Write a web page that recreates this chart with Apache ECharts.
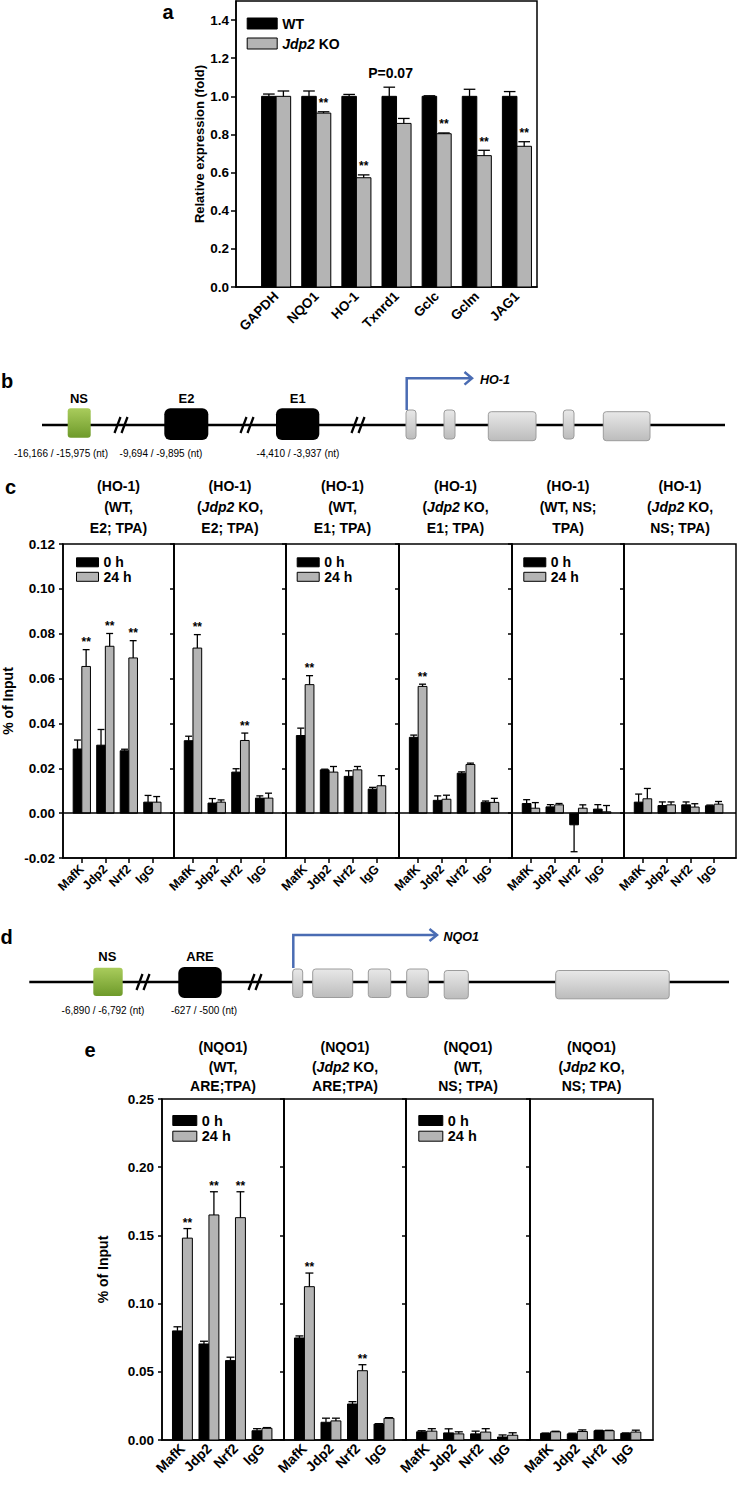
<!DOCTYPE html>
<html><head><meta charset="utf-8">
<script src="https://cdn.jsdelivr.net/npm/echarts@6/dist/echarts.min.js"></script>
<style>html,body{margin:0;padding:0;background:#fff;}#c{width:740px;height:1485px;}</style>
</head><body><div id="c"></div>
<script>
// ================= DATA =================
// Panel a
const genesA = ['GAPDH','NQO1','HO-1','Txnrd1','Gclc','Gclm','JAG1'];
const wtA    = [1.00, 1.00, 1.00, 1.00, 1.00, 1.00, 1.00];
const wtErrA = [0.012,0.028,0.010,0.048,0.003,0.037,0.025];
const koA    = [1.00, 0.912,0.573,0.858,0.804,0.689,0.738];
const koErrA = [0.028,0.007,0.015,0.026,0.004,0.028,0.024];
const sigA   = ['','**','**','','**','**','**'];
const noteA  = ['','','','P=0.07','','',''];
const ticksA = [0,0.2,0.4,0.6,0.8,1.0,1.2,1.4];

// Panel c (HO-1 ChIP)
const chipTargets = ['MafK','Jdp2','Nrf2','IgG'];
const hoHead = [
  ['(HO-1)','(WT,','E2; TPA)'],
  ['(HO-1)','({i|Jdp2} KO,','E2; TPA)'],
  ['(HO-1)','(WT,','E1; TPA)'],
  ['(HO-1)','({i|Jdp2} KO,','E1; TPA)'],
  ['(HO-1)','(WT, NS;','TPA)'],
  ['(HO-1)','({i|Jdp2} KO,','NS; TPA)']
];
const ho0h = [
  [0.0286,0.0303,0.0278,0.0049],
  [0.0323,0.0045,0.0183,0.0067],
  [0.0346,0.0193,0.0164,0.0107],
  [0.0338,0.0057,0.0178,0.0048],
  [0.0043,0.0028,-0.0052,0.0018],
  [0.0049,0.0034,0.0037,0.0033]
];
const ho0hErr = [
  [0.0040,0.0070,0.0007,0.0030],
  [0.0020,0.0020,0.0015,0.0010],
  [0.0033,0.0003,0.0025,0.0008],
  [0.0010,0.0020,0.0006,0.0006],
  [0.0017,0.0010,0.0120,0.0020],
  [0.0036,0.0016,0.0013,0.0003]
];
const ho24h = [
  [0.0654,0.0744,0.0692,0.0049],
  [0.0736,0.0049,0.0324,0.0067],
  [0.0573,0.0183,0.0193,0.0122],
  [0.0565,0.0062,0.0217,0.0048],
  [0.0022,0.0037,0.0022,0.0006],
  [0.0064,0.0037,0.0027,0.0040]
];
const ho24hErr = [
  [0.0075,0.0057,0.0077,0.0025],
  [0.0060,0.0010,0.0033,0.0022],
  [0.0040,0.0025,0.0015,0.0045],
  [0.0010,0.0018,0.0006,0.0018],
  [0.0025,0.0006,0.0015,0.0028],
  [0.0046,0.0013,0.0015,0.0012]
];
const hoSig = [
  ['**','**','**',''],
  ['**','','**',''],
  ['**','','',''],
  ['**','','',''],
  ['','','',''],
  ['','','','']
];

// Panel e (NQO1 ChIP)
const nqHead = [
  ['(NQO1)','(WT,','ARE;TPA)'],
  ['(NQO1)','({i|Jdp2} KO,','ARE;TPA)'],
  ['(NQO1)','(WT,','NS; TPA)'],
  ['(NQO1)','({i|Jdp2} KO,','NS; TPA)']
];
const nq0h = [
  [0.0800,0.0704,0.0582,0.0068],
  [0.0748,0.0130,0.0264,0.0117],
  [0.0060,0.0052,0.0045,0.0022],
  [0.0048,0.0045,0.0068,0.0048]
];
const nq0hErr = [
  [0.0030,0.0020,0.0025,0.0015],
  [0.0015,0.0030,0.0017,0.0003],
  [0.0008,0.0030,0.0020,0.0015],
  [0.0003,0.0005,0.0003,0.0004]
];
const nq24h = [
  [0.1480,0.1650,0.1630,0.0086],
  [0.1124,0.0140,0.0508,0.0159],
  [0.0065,0.0045,0.0058,0.0035],
  [0.0060,0.0062,0.0068,0.0058]
];
const nq24hErr = [
  [0.0070,0.0170,0.0190,0.0005],
  [0.0100,0.0020,0.0044,0.0005],
  [0.0018,0.0015,0.0025,0.0018],
  [0.0004,0.0012,0.0003,0.0014]
];
const nqSig = [
  ['**','**','**',''],
  ['**','','**',''],
  ['','','',''],
  ['','','','']
];

// ================= RENDER =================
const FONT = "'Liberation Sans', Arial, Helvetica, sans-serif";
const GRAY = '#b4b4b4';
const BLUE = '#4a6cb3';
const chart = echarts.init(document.getElementById('c'), null, {renderer:'svg', width:740, height:1485});

const grids = [], xAxis = [], yAxis = [], series = [], legend = [], elements = [];
const AX = {color:'#000', width:1.5};
const LF = {fontFamily:FONT, fontWeight:'bold', color:'#000'};

function makeBars(name, gi, vals, errs, sigs, side, color, bw, sigSize, sigGap, extra) {
  return {
    type:'custom', name:name, xAxisIndex:gi, yAxisIndex:gi,
    itemStyle:{color:color},
    data: vals.map((v,i)=>[i, v, errs[i]]),
    renderItem: function(params, api) {
      const i = api.value(0), v = api.value(1), e = api.value(2);
      const unit = api.size([1,0])[0];
      const w = unit*bw;
      const p0 = api.coord([i,0]);
      const p1 = api.coord([i,v]);
      const dir = v < 0 ? -1 : 1;
      const p2 = api.coord([i, v + dir*e]);
      const x0 = side < 0 ? p0[0]-w : p0[0];
      const cx = x0 + w/2;
      const capW = w*0.8;
      const ch = [
        {type:'rect', shape:{x:x0, y:Math.min(p0[1],p1[1]), width:w, height:Math.abs(p0[1]-p1[1])},
         style:{fill:color, stroke:'#000', lineWidth:1}},
        {type:'line', shape:{x1:cx, y1:p1[1], x2:cx, y2:p2[1]}, style:{stroke:'#000', lineWidth:1.3}},
        {type:'line', shape:{x1:cx-capW/2, y1:p2[1], x2:cx+capW/2, y2:p2[1]}, style:{stroke:'#000', lineWidth:1.3}}
      ];
      const s = sigs && sigs[params.dataIndex];
      if (s) ch.push({type:'text', x:cx, y:p2[1]-sigGap,
        style:{text:s, align:'center', verticalAlign:'middle', fontSize:sigSize, fontWeight:'bold', fontFamily:FONT, fill:'#000'}});
      if (extra) {
        const n = extra.notes[params.dataIndex];
        if (n) {
          const pn = api.coord([i, extra.base[params.dataIndex]]);
          ch.push({type:'text', x:p0[0]-6, y:pn[1]-14.5,
            style:{text:n, align:'center', verticalAlign:'middle', fontSize:14, fontWeight:'bold', fontFamily:FONT, fill:'#000'}});
        }
      }
      return {type:'group', children:ch};
    }
  };
}

function legendFor(left, top, names, iw, ih, gap, fs) {
  return {
    left:left, top:top, orient:'vertical', padding:0, itemGap:gap, itemWidth:iw, itemHeight:ih,
    icon:'rect', selectedMode:false,
    data:[{name:names[0], itemStyle:{color:'#000', borderColor:'#000', borderWidth:1}},
          {name:names[1], itemStyle:{color:GRAY, borderColor:'#000', borderWidth:1}}],
    textStyle:Object.assign({}, LF, {fontSize:fs, rich:{i:{fontStyle:'italic', fontWeight:'bold', fontSize:fs, fontFamily:FONT, color:'#000'}}}),
    formatter: n => n === 'Jdp2 KO' ? '{i|Jdp2} KO' : n
  };
}

// ---------- Panel a ----------
grids.push({left:236, top:1, width:301, height:286, show:true, borderColor:'#000', borderWidth:1.5});
xAxis.push({gridIndex:0, type:'value', min:-1, max:6.5,
  axisLine:{onZero:false, lineStyle:AX}, axisTick:{show:false}, splitLine:{show:false},
  axisLabel:Object.assign({}, LF, {fontSize:13.5, rotate:45, margin:7, customValues:genesA.map((g,i)=>i),
    formatter: v => genesA[Math.round(v)] || ''})});
yAxis.push({gridIndex:0, type:'value', min:0, max:1.5,
  name:'Relative expression (fold)', nameLocation:'middle', nameGap:29,
  nameTextStyle:Object.assign({}, LF, {fontSize:13}),
  axisLine:{show:true, onZero:false, lineStyle:AX}, axisTick:{show:true, length:5, lineStyle:AX, customValues:ticksA},
  axisLabel:Object.assign({}, LF, {fontSize:13.5, margin:7, customValues:ticksA, formatter: v => v.toFixed(1)}),
  splitLine:{show:false}});
series.push(makeBars('WT', 0, wtA, wtErrA, null, -1, '#000', 0.362, 12, 8.5));
series.push(makeBars('Jdp2 KO', 0, koA, koErrA, sigA, 1, GRAY, 0.362, 12, 8.5,
  {notes:noteA, base:wtA.map((v,i)=>Math.max(v+wtErrA[i], koA[i]+koErrA[i]))}));
legend.push(legendFor(246.7, 16.5, ['WT','Jdp2 KO'], 30, 11, 6, 14));

// ---------- Panel c ----------
const cB = [63,174,286,399,512,624,736];
for (let k = 0; k < 6; k++) {
  const gi = grids.length;
  grids.push({left:cB[k], top:544, width:cB[k+1]-cB[k], height:314, show:true, borderColor:'#000', borderWidth:1.5});
  xAxis.push({gridIndex:gi, type:'value', min:-0.8, max:3.92,
    axisLine:{onZero:false, lineStyle:AX},
    axisTick:{show:true, length:5, lineStyle:AX, customValues:[0,1,2,3]},
    splitLine:{show:false},
    axisLabel:Object.assign({}, LF, {fontSize:12.5, rotate:45, margin:9, customValues:[0,1,2,3],
      formatter: v => chipTargets[Math.round(v)] || ''})});
  yAxis.push({gridIndex:gi, type:'value', min:-0.02, max:0.12, interval:0.02,
    name: k === 0 ? '% of Input' : '', nameLocation:'middle', nameGap:48,
    nameTextStyle:Object.assign({}, LF, {fontSize:14}),
    axisLine:{show:true, onZero:false, lineStyle:AX}, axisTick:{show:true, length:4, lineStyle:AX},
    axisLabel:Object.assign({}, LF, {show:k===0, fontSize:13.5, margin:8, formatter: v => v.toFixed(2)}),
    splitLine:{show:false}});
  const s0 = makeBars('0 h', gi, ho0h[k], ho0hErr[k], null, -1, '#000', 0.367, 12, 7.5);
  s0.markLine = {silent:true, symbol:'none', label:{show:false}, animation:false,
    lineStyle:{color:'#000', width:1.5, type:'solid'}, data:[{yAxis:0}]};
  series.push(s0);
  series.push(makeBars('24 h', gi, ho24h[k], ho24hErr[k], hoSig[k], 1, GRAY, 0.367, 12, 7.5));
}
legend.push(legendFor(76, 555.3, ['0 h','24 h'], 22, 9, 0.5, 14));
legend.push(legendFor(296.7, 555.3, ['0 h','24 h'], 22, 9, 0.5, 14));
legend.push(legendFor(523.3, 555.3, ['0 h','24 h'], 22, 9, 0.5, 14));

// ---------- Panel e ----------
const eB = [162,284,406,530,653];
for (let k = 0; k < 4; k++) {
  const gi = grids.length;
  grids.push({left:eB[k], top:1099, width:eB[k+1]-eB[k], height:341, show:true, borderColor:'#000', borderWidth:1.5});
  xAxis.push({gridIndex:gi, type:'value', min:-0.77, max:3.83,
    axisLine:{onZero:false, lineStyle:AX}, axisTick:{show:false}, splitLine:{show:false},
    axisLabel:Object.assign({}, LF, {fontSize:14, rotate:45, margin:6, customValues:[0,1,2,3],
      formatter: v => chipTargets[Math.round(v)] || ''})});
  yAxis.push({gridIndex:gi, type:'value', min:0, max:0.25, interval:0.05,
    name: k === 0 ? '% of Input' : '', nameLocation:'middle', nameGap:52,
    nameTextStyle:Object.assign({}, LF, {fontSize:14}),
    axisLine:{show:true, onZero:false, lineStyle:AX}, axisTick:{show:true, length:4, lineStyle:AX},
    axisLabel:Object.assign({}, LF, {show:k===0, fontSize:13.5, margin:8, formatter: v => v.toFixed(2)}),
    splitLine:{show:false}});
  series.push(makeBars('0 h', gi, nq0h[k], nq0hErr[k], null, -1, '#000', 0.375, 12, 6));
  series.push(makeBars('24 h', gi, nq24h[k], nq24hErr[k], nqSig[k], 1, GRAY, 0.375, 12, 6));
}
legend.push(legendFor(172.3, 1113, ['0 h','24 h'], 24, 10, 0.7, 14.5));
legend.push(legendFor(418.3, 1113, ['0 h','24 h'], 24, 10, 0.7, 14.5));

// ---------- text helpers / diagrams ----------
function T(x, y, text, size, extra) {
  return {type:'text', x:x, y:y, silent:true,
    style:Object.assign({text:text, fontSize:size, fontWeight:'bold', fontFamily:FONT, fill:'#000',
      align:'center', verticalAlign:'middle',
      rich:{i:{fontStyle:'italic', fontWeight:'bold', fontSize:size, fontFamily:FONT, fill:'#000'}}}, extra || {})};
}
function L(x1,y1,x2,y2,w,c) {
  return {type:'line', silent:true, shape:{x1:x1,y1:y1,x2:x2,y2:y2}, style:{stroke:c||'#000', lineWidth:w}};
}
function PL(points, w, c) {
  return {type:'polyline', silent:true, shape:{points:points}, style:{stroke:c, lineWidth:w, fill:null, lineJoin:'miter'}};
}
const greenFill = {type:'linear', x:0, y:0, x2:0, y2:1, colorStops:[{offset:0,color:'#a9cc5c'},{offset:1,color:'#6e9a2a'}]};
const grayFill  = {type:'linear', x:0, y:0, x2:0, y2:1, colorStops:[{offset:0,color:'#e8e8e8'},{offset:1,color:'#bcbcbc'}]};
function R(x,y,w,h,r,fill,stroke) {
  return {type:'rect', silent:true, shape:{x:x,y:y,width:w,height:h,r:r}, style:{fill:fill, stroke:stroke||null, lineWidth:1}};
}
function breakMark(cx, cy) {
  return [L(cx-6.5, cy+8, cx-0.5, cy-8, 2.3), L(cx+0.5, cy+8, cx+6.5, cy-8, 2.3)];
}

// panel letters
elements.push(T(168, 12, 'a', 20));
elements.push(T(7, 381, 'b', 20));
elements.push(T(10.6, 487, 'c', 20));
elements.push(T(6.5, 937, 'd', 20));
elements.push(T(90, 1050, 'e', 20));

// panel b diagram
elements.push(L(42, 425, 725, 425, 2.6));
elements.push(R(67.7, 408.3, 23, 29.4, 3, greenFill));
elements.push(R(164.3, 408.3, 44, 31.7, 6, '#000'));
elements.push(R(276, 408.3, 43.3, 31.7, 6, '#000'));
[121, 247, 358].forEach(cx => breakMark(cx, 425).forEach(e => elements.push(e)));
elements.push(T(79, 398, 'NS', 13));
elements.push(T(186.5, 398, 'E2', 13));
elements.push(T(297.7, 398, 'E1', 13));
elements.push(T(61, 453.3, '-16,166 / -15,975 (nt)', 10, {fontWeight:'normal'}));
elements.push(T(161, 453.3, '-9,694 / -9,895 (nt)', 10, {fontWeight:'normal'}));
elements.push(T(298, 453.3, '-4,410 / -3,937 (nt)', 10, {fontWeight:'normal'}));
[[406,410,10,29],[444,410,11,29],[488.3,411.7,47.7,29],[563.3,410,10.7,29],[603.3,411.7,46.7,29]]
  .forEach(b => elements.push(R(b[0], b[1], b[2], b[3], 3, grayFill, '#9c9c9c')));
elements.push(PL([[406.7,410],[406.7,378.3],[471,378.3]], 2.5, BLUE));
elements.push(PL([[464.5,372],[472,378.3],[464.5,384.6]], 2.5, BLUE));
elements.push(T(480, 379.5, '{i|HO-1}', 12.5, {align:'left'}));

// panel d diagram
elements.push(L(29.3, 982, 729, 982, 2.6));
elements.push(R(93.3, 967.7, 29.4, 28.3, 3, greenFill));
elements.push(R(178.3, 967, 43.4, 31, 6, '#000'));
[143, 255].forEach(cx => breakMark(cx, 982).forEach(e => elements.push(e)));
elements.push(T(107.3, 956.7, 'NS', 13));
elements.push(T(200, 956, 'ARE', 13));
elements.push(T(103, 1010, '-6,890 / -6,792 (nt)', 10, {fontWeight:'normal'}));
elements.push(T(204, 1010, '-627 / -500 (nt)', 10, {fontWeight:'normal'}));
[[292.7,969,10,28.5],[312.7,969,40,28.5],[368.3,969,22.4,28.5],[406.7,969,21.6,28.5],[444.2,970.5,24.1,28.3],[555.7,970.5,113.5,28.3]]
  .forEach(b => elements.push(R(b[0], b[1], b[2], b[3], 3, grayFill, '#9c9c9c')));
elements.push(PL([[293.3,968],[293.3,935],[436,935]], 2.5, BLUE));
elements.push(PL([[429.5,929],[437,935],[429.5,941]], 2.5, BLUE));
elements.push(T(443.5, 936.5, '{i|NQO1}', 12.5, {align:'left'}));

// headers
hoHead.forEach((h, k) => {
  const cx = (cB[k] + cB[k+1]) / 2;
  h.forEach((line, j) => elements.push(T(cx, 486 + j*21, line, 14)));
});
nqHead.forEach((h, k) => {
  const cx = (eB[k] + eB[k+1]) / 2;
  h.forEach((line, j) => elements.push(T(cx, 1047 + j*19.5, line, 14)));
});

chart.setOption({
  animation:false,
  backgroundColor:'#fff',
  textStyle:{fontFamily:FONT},
  grid:grids, xAxis:xAxis, yAxis:yAxis, series:series, legend:legend,
  graphic:{elements:elements}
});
</script>
</body></html>
